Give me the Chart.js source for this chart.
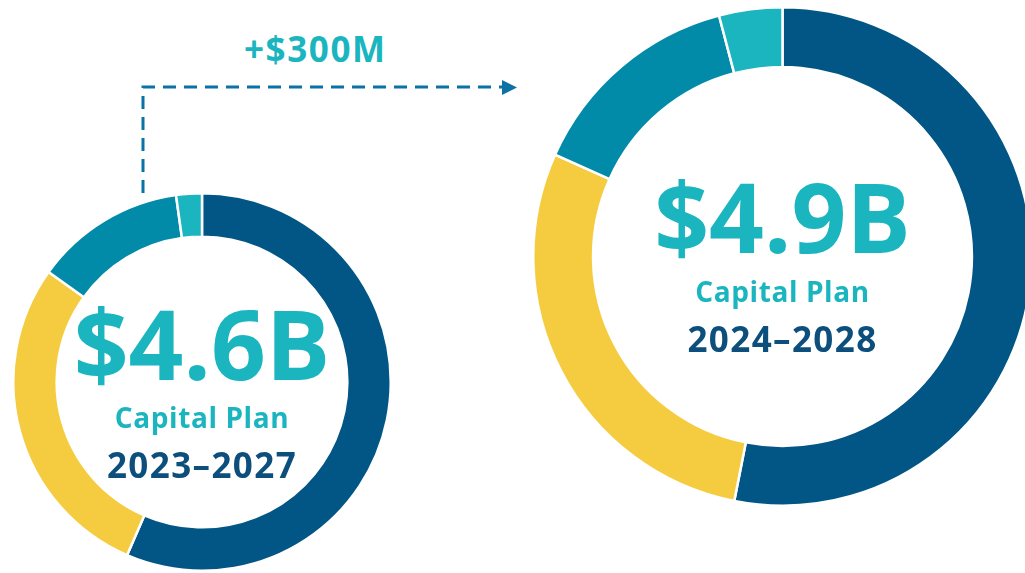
<!DOCTYPE html>
<html>
<head>
<meta charset="utf-8">
<script src="https://cdn.jsdelivr.net/npm/chart.js@4"></script>
<style>
  html, body { margin:0; padding:0; background:#fff; width:1025px; height:573px; overflow:hidden; position:relative; }
  .box { position:absolute; }
  #arrow { position:absolute; left:0; top:0; }
  #delta { position:absolute; left:244px; top:28px; font-family:"Open Sans"; font-weight:700; font-size:35px; letter-spacing:1.6px; color:#1BB5C0; line-height:42px; white-space:nowrap; }
</style>
</head>
<body>
<svg id="arrow" width="1025" height="573">
  <polyline points="143,193 143,87 503,87" fill="none" stroke="#0B72A6" stroke-width="3" stroke-dasharray="13,8"/>
  <polygon points="502,80 517,87.5 502,95" fill="#0B72A6"/>
</svg>
<div id="delta">+$300M</div>
<div class="box" style="left:12px;top:192px;width:380px;height:380px;"><canvas id="c1"></canvas></div>
<div class="box" style="left:532px;top:6px;width:501px;height:501px;"><canvas id="c2"></canvas></div>
<script>
// Data (share of each capital plan, %)
const categories = ["Category A", "Category B", "Category C", "Category D"];
const plan2023Values = [56.5, 28.4, 12.9, 2.2];
const plan2024Values = [53.1, 28.6, 14.2, 4.1];
const plan2023Labels = ["$4.6B", "Capital Plan", "2023–2027"];
const plan2024Labels = ["$4.9B", "Capital Plan", "2024–2028"];
const deltaLabel = "+$300M";

const colors = ["#025685", "#F5CC40", "#028BA8", "#1BB5C0"];
document.getElementById('delta').textContent = deltaLabel;

const centerText = {
  id: 'centerText',
  afterDraw(chart, args, opts) {
    const ctx = chart.ctx;
    const meta = chart.getDatasetMeta(0);
    const arc = meta.data[0];
    const cx = arc.x, cy = arc.y;
    ctx.save();
    ctx.textAlign = 'center';
    ctx.textBaseline = 'alphabetic';
    opts.lines.forEach(l => {
      ctx.font = l.font;
      ctx.letterSpacing = l.ls || '0px';
      ctx.fillStyle = l.color;
      ctx.fillText(l.text, cx, cy + l.dy);
    });
    ctx.restore();
  }
};

function makeChart(id, values, labels, cutout, dys) {
  return new Chart(document.getElementById(id), {
    type: 'doughnut',
    data: {
      labels: categories,
      datasets: [{
        data: values,
        backgroundColor: colors,
        borderColor: '#ffffff',
        borderWidth: 2.5,
        hoverOffset: 0
      }]
    },
    options: {
      responsive: true,
      maintainAspectRatio: false,
      animation: false,
      cutout: cutout,
      layout: { padding: 0 },
      plugins: {
        legend: { display: false },
        tooltip: { enabled: false },
        centerText: {
          lines: [
            { text: labels[0], dy: dys[0], font: '700 96px "Open Sans"', color: '#1BB5C0' },
            { text: labels[1], dy: dys[1], font: '700 28px "Open Sans"', color: '#1BB5C0', ls: '0.6px' },
            { text: labels[2], dy: dys[2], font: '700 35px "Open Sans"', color: '#0C4F7C', ls: '1.4px' }
          ]
        }
      }
    },
    plugins: [centerText]
  });
}

makeChart('c1', plan2023Values, plan2023Labels, '77%', [-2, 46, 96]);
makeChart('c2', plan2024Values, plan2024Labels, '76%', [-3.5, 45.5, 95.5]);
</script>
</body>
</html>
